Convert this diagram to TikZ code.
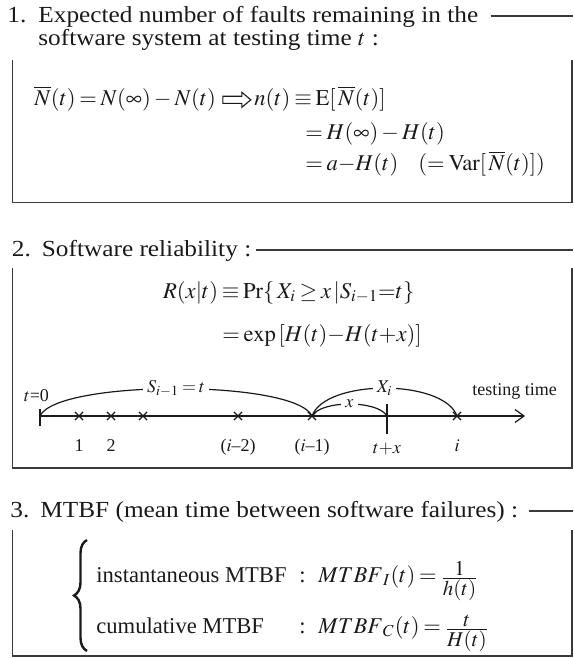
\documentclass[tikz,border=0pt]{standalone}
\usepackage{mathptmx}
\usepackage{fontspec}
\setmainfont{Liberation Serif}
\newfontfamily\ttlfont{Liberation Serif}[FakeStretch=1.1]
\usetikzlibrary{positioning,calc,arrows.meta,shapes.arrows,shapes.misc,decorations.pathreplacing}
\definecolor{txt}{HTML}{1A1A1A}
\definecolor{lnC}{HTML}{3A3A3A}
\thickmuskip=3mu plus 2mu\relax
\medmuskip=2.5mu plus 1mu\relax
\newcommand{\fr}[2]{\raisebox{-1pt}{\fontsize{10.5}{12}\selectfont$\frac{\textstyle #1}{\textstyle #2}$}}

\begin{document}
\begin{tikzpicture}[
  x=0.5pt,y=-0.5pt,
  font=\fontsize{11.3}{11.6}\selectfont,text=txt,
  >={Straight Barb[length=4.5pt,width=6.5pt]},
  boxln/.style={draw=lnC,line width=0.75pt},
  ttl/.style={anchor=base west,inner sep=0pt,font=\ttlfont\fontsize{11.5}{12}\selectfont},
  eq/.style={anchor=base west,inner sep=0pt},
  tl/.style={font=\fontsize{9}{10}\selectfont,inner sep=0pt},
  xmk/.style={cross out,draw=txt,line width=0.6pt,minimum size=3.5pt,inner sep=0pt},
  arc/.style={draw=txt,line width=0.6pt},
  arclbl/.style={tl,fill=white,inner xsep=2pt,inner ysep=1pt},
  hollow/.style={single arrow,draw=txt,line width=0.55pt,minimum height=14pt,
    inner sep=0pt,single arrow head extend=2pt,single arrow tip angle=80},
  ]
\useasboundingbox (0,0) rectangle (573,658);
\coordinate (edge) at (573,0);

% ================= 1. remaining faults =================
\node[ttl] (n1) at (7,23) {1.};
\node[ttl] (t1a) at (38,23) {Expected number of faults remaining in the};
\node[ttl] (t1b) at (38,46) {software system at testing time $t$ :};
\draw[boxln] ($(t1a.base east)+(12,-7)$) -- ($(t1a.base east -| edge)+(0,-7)$);
\coordinate (b1tl) at (12.7,60);
\coordinate (b1br) at (572,202.7);
\draw[boxln] (b1tl) |- (b1br) -- (b1br |- b1tl);

\node[eq] (nbar) at (34,105) {$\overline{N}(t)=N(\infty)-N(t)$};
\node[hollow,right=3pt of nbar.base east,anchor=west,yshift=2.6pt] (imp) {\vrule height 1.5pt depth 1.5pt width 0pt};
\node[eq] (nt) at (254,105) {$n(t)\equiv\mathrm{E}[\,\overline{N}(t)]$};
\node[eq] (hinf) at (305,140) {$=H(\infty)-H(t)$};
\node[eq] (aht) at (305,170) {$=a{-}H(t)$};
\node[eq] (var) at (418,170) {$(=\mathrm{Var}[\,\overline{N}(t)])$};

% ================= 2. reliability =================
\node[ttl] (n2) at (11.5,256) {2.};
\node[ttl] (t2) at (41.5,256) {Software reliability :};
\draw[boxln] ($(t2.base east)+(4,-6)$) -- ($(t2.base east -| edge)+(0,-6)$);
\coordinate (b2tl) at (12.7,268);
\coordinate (b2br) at (572,468);
\draw[boxln] (b2tl) |- (b2br) -- (b2br |- b2tl);

\node[eq] (rel) at (162.7,298) {$R(x|t)\equiv\mathrm{Pr}\{\,X_i\geq x\,|S_{i-1}{=}t\}$};
\node[eq] (expf) at (222,341) {$=\exp\,[H(t){-}H(t{+}x)]$};

% ---- time axis ----
\coordinate (t0) at (40,416);
\coordinate (tend) at (525,416);
\coordinate (tx) at (387,416);
\draw[arc,->] (t0) -- (tend);
\draw[arc] ($(t0)+(0,-7)$) -- ($(t0)+(0,10)$);
\draw[arc] ($(tx)+(0,-12)$) -- ($(tx)+(0,18)$);
\foreach \n/\x in {e1/79,e2/111,e3/143,e4/238,e5/312,e6/457}
  \node[xmk] (\n) at (\x,416) {};

\node[tl,anchor=base] (l1) at (79,451) {1};
\node[tl,anchor=base] (l2) at (111,451) {2};
\node[tl,anchor=base] (l4) at (238,451) {($i$--2)};
\node[tl,anchor=base] (l5) at (312,451) {($i$--1)};
\node[tl,anchor=base] (ltx) at (387,453) {$t{+}x$};
\node[tl,anchor=base] (l6) at (457,451) {$i$};
\node[tl,anchor=base] (lt0) at (36.5,401) {\mbox{$t$=0}};
\node[tl,anchor=base west] (ltt) at (472,395) {testing time};

\draw[arc] (t0) to[out=65,in=115,looseness=0.38] node[arclbl] {$S_{i-1}=t$} (e5.center);
\draw[arc] (e5.center) to[out=70,in=110,looseness=0.7] node[arclbl] {$X_i$} (e6.center);
\draw[arc] (e5.center) to[out=60,in=120,looseness=0.63] node[arclbl] {$x$} (tx);

% ================= 3. MTBF =================
\node[ttl] (n3) at (10,517) {3.};
\node[ttl] (t3) at (40,517) {MTBF (mean time between software failures) :};
\draw[boxln] ($(t3.base east)+(10,-6)$) -- ($(t3.base east -| edge)+(0,-6)$);
\coordinate (b3tl) at (12.7,530);
\coordinate (b3br) at (572,656);
\draw[boxln] (b3tl) |- (b3br) -- (b3br |- b3tl);

\coordinate (brb) at (87,651);
\coordinate (brt) at (87,540);
\draw[txt,line width=1.2pt,decorate,decoration={brace,amplitude=6.5pt}] (brb) -- (brt);
\node[eq] (inst) at (96,582) {instantaneous MTBF};
\node[eq] (cl1) at (299,582) {:};
\node[eq] (mi) at (318,582) {${MTBF}_{I}(t)=$\,\fr{1}{h(t)}};
\node[eq] (cum) at (96,633) {cumulative MTBF};
\node[eq] (cl2) at (299,633) {:};
\node[eq] (mc) at (318,633) {${MTBF}_{C}(t)=$\,\fr{t}{H(t)}};

\end{tikzpicture}
\end{document}
